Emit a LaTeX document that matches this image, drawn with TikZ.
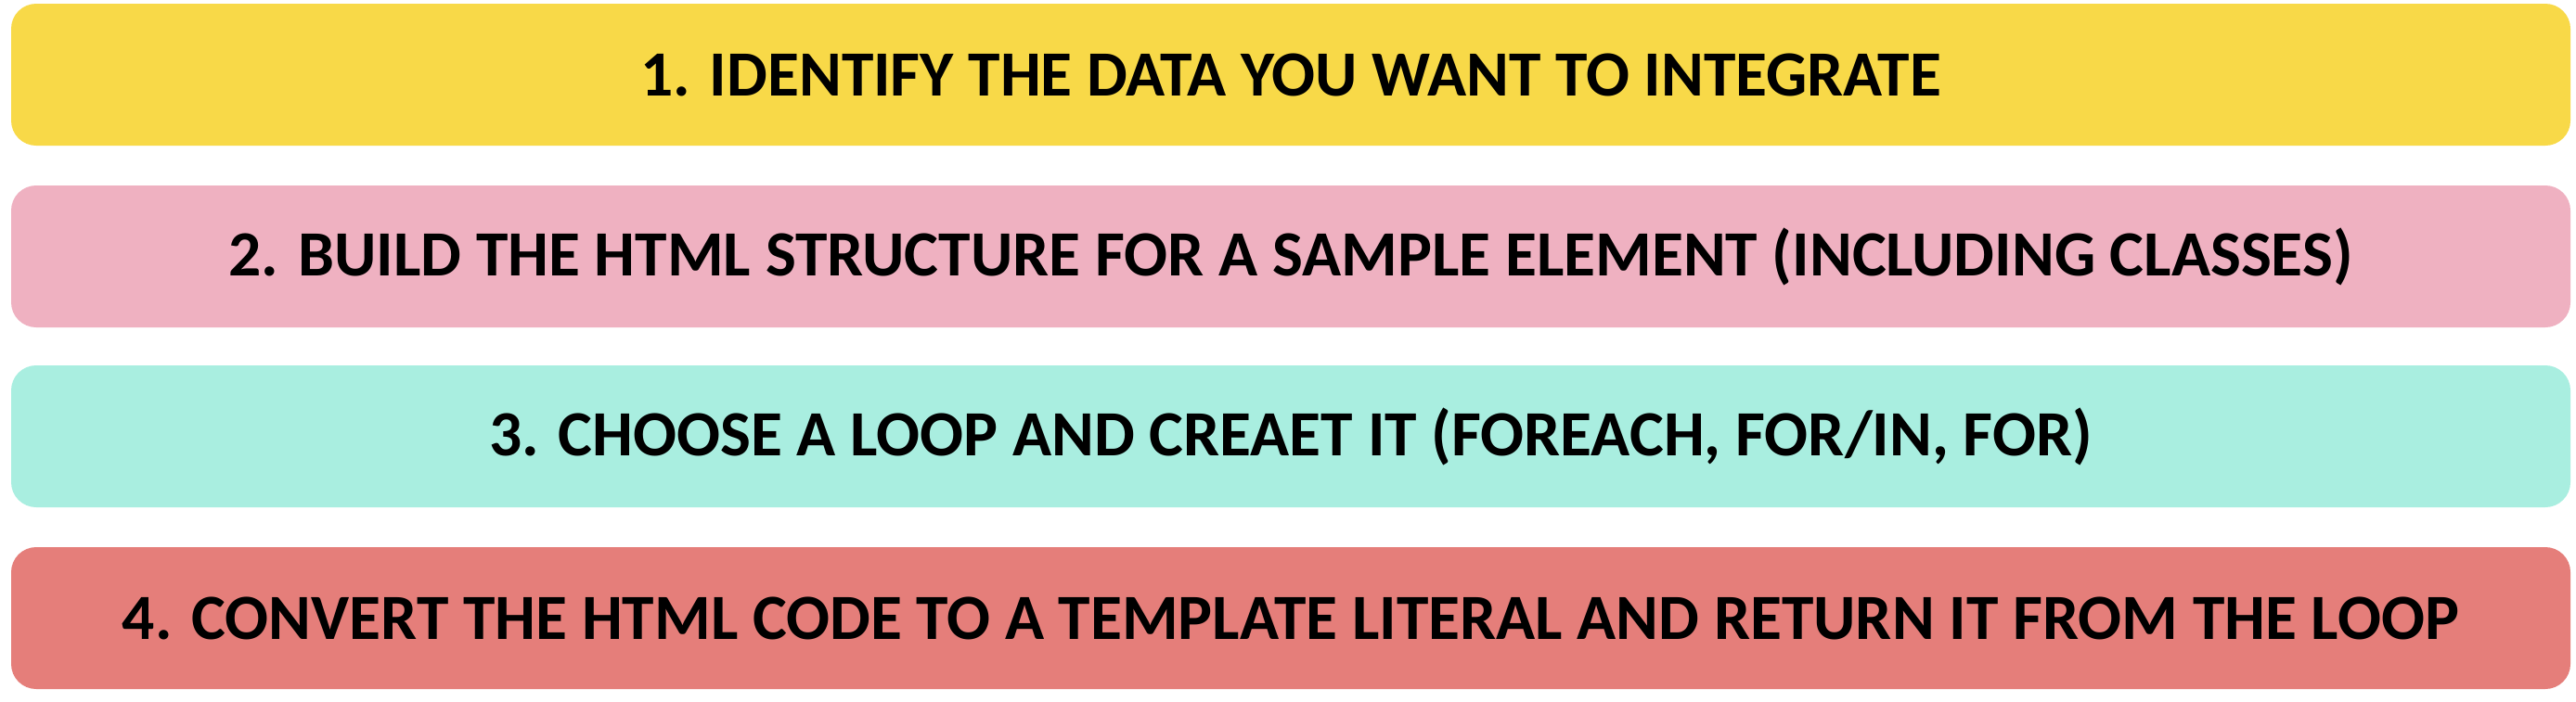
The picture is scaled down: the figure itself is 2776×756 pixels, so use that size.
\documentclass[tikz,border=0pt]{standalone}
\usepackage{fontspec}
\setmainfont{Carlito}
\usepackage{tikz}
\definecolor{stepyellow}{HTML}{F8D948}
\definecolor{steppink}{HTML}{EFB1C1}
\definecolor{stepteal}{HTML}{A9EEE0}
\definecolor{stepred}{HTML}{E57E7A}
\begin{document}
\begin{tikzpicture}[x=1pt, y=-1pt,
    stepbox/.style={rectangle, rounded corners=27pt, minimum width=2758pt, minimum height=153pt,
        inner sep=0pt, font=\bfseries\fontsize{69.5}{80}\selectfont, text=black}]
            \useasboundingbox (0, 0) rectangle (2776, 756);
            % steps
            \node[stepbox, fill=stepyellow] (s1) at (1391, 80.5) {1. IDENTIFY THE DATA YOU WANT TO INTEGRATE};
            \node[stepbox, fill=steppink] (s2) at (1391, 276.5) {2. BUILD THE HTML STRUCTURE FOR A SAMPLE ELEMENT (INCLUDING CLASSES)};
            \node[stepbox, fill=stepteal] (s3) at (1391, 470.5) {3. CHOOSE A LOOP AND CREAET IT (FOREACH, FOR/IN, FOR)};
            \node[stepbox, fill=stepred] (s4) at (1391, 666.5) {4. CONVERT THE HTML CODE TO A TEMPLATE LITERAL AND RETURN IT FROM THE LOOP};
        \end{tikzpicture}
\end{document}
